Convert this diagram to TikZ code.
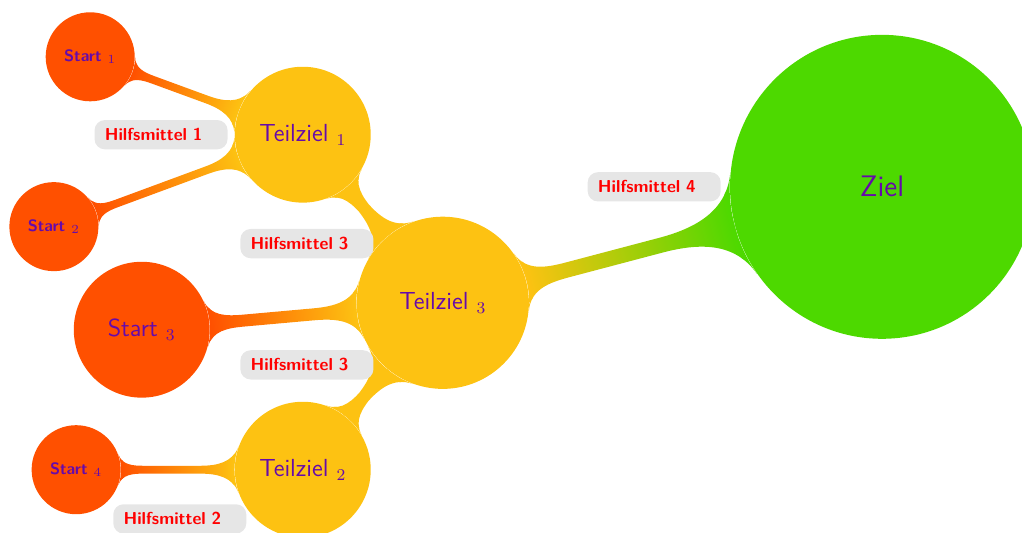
\documentclass[tikz,border=0pt]{standalone}
\usetikzlibrary{mindmap,backgrounds}
\definecolor{startcol}{RGB}{255,80,0}
\definecolor{teilcol}{RGB}{253,194,18}
\definecolor{zielcol}{RGB}{77,217,0}
\definecolor{textcol}{RGB}{102,10,170}
\definecolor{mittelcol}{RGB}{230,230,230}
\begin{document}
\begin{tikzpicture}[font=\sffamily,
  kreis/.style={circle, inner sep=0pt, text=textcol, align=center},
  start/.style={kreis, fill=startcol, minimum size=1.52cm, font=\sffamily\bfseries\footnotesize},
  teil/.style={kreis, fill=teilcol, minimum size=2.32cm, font=\sffamily\large},
  hilf/.style={fill=mittelcol, rounded corners=5pt, text=red, text width=1.92cm, inner xsep=5pt, minimum height=0.5cm, font=\sffamily\bfseries\fontsize{8.4}{10}\selectfont},
  bar/.style n args={3}{line width=#3, circle connection bar switch color=from (#1) to (#2)}]
\useasboundingbox (0,0) rectangle (17.45,9.10);
% Kreise
\node[start] (s1) at (1.54,8.13) {Start $_1$};
\node[start] (s2) at (0.92,5.23) {Start $_2$};
\node[start, minimum size=2.32cm, font=\sffamily\large] (s3) at (2.42,3.47) {Start $_3$};
\node[start] (s4) at (1.30,1.08) {Start $_4$};
\node[teil] (t1) at (5.17,6.80) {Teilziel $_1$};
\node[teil] (t2) at (5.17,1.08) {Teilziel $_2$};
\node[teil, minimum size=2.94cm] (t3) at (7.56,3.93) {Teilziel $_3$};
\node[kreis, fill=zielcol, minimum size=5.19cm, font=\sffamily\Large] (z) at (15.06,5.91) {Ziel};
% Verbindungen
\begin{scope}[on background layer]
\path (s1) to[bar={startcol}{teilcol}{4pt}] (t1);
\path (s2) to[bar={startcol}{teilcol}{4pt}] (t1);
\path (s4) to[bar={startcol}{teilcol}{4pt}] (t2);
\path (s3) to[bar={startcol}{teilcol}{5.5pt}] (t3);
\path (t1) to[bar={teilcol}{teilcol}{5pt}] (t3);
\path (t2) to[bar={teilcol}{teilcol}{5pt}] (t3);
\path (t3) to[bar={teilcol}{zielcol}{7pt}] (z);
\end{scope}
% Hilfsmittel
\node[hilf] (h1) at (2.75,6.80) {Hilfsmittel 1};
\node[hilf] (h3a) at (5.24,4.94) {Hilfsmittel 3};
\node[hilf] (h3b) at (5.24,2.87) {Hilfsmittel 3};
\node[hilf] (h2) at (3.07,0.24) {Hilfsmittel 2};
\node[hilf] (h4) at (11.17,5.91) {Hilfsmittel 4};
\end{tikzpicture}
\end{document}
